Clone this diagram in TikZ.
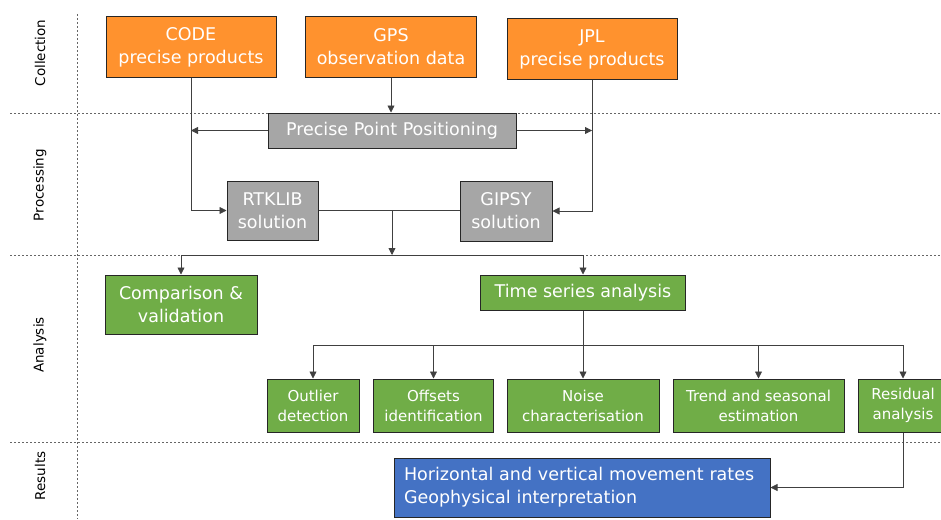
\documentclass[tikz,border=0pt]{standalone}
\usepackage[HTML]{xcolor}
\usepackage{fontspec}
\setmainfont{DejaVu Sans}
\usepackage{tikz}
\usetikzlibrary{positioning, arrows.meta}

\definecolor{collorange}{HTML}{FF922E}
\definecolor{procgray}{HTML}{A6A6A6}
\definecolor{anagreen}{HTML}{70AD47}
\definecolor{resblue}{HTML}{4472C4}

\begin{document}
\begin{tikzpicture}[x=1pt, y=-1pt,
  lane/.style={gray!80!black, dash pattern=on 2pt off 2pt, line width=0.7pt},
  lanelabel/.style={rotate=90, font=\fontsize{13.5}{15}\selectfont},
  box/.style={draw=black!85, line width=1pt, text=white, align=center, inner sep=2pt},
  bigtext/.style={font=\fontsize{17.5}{23}\selectfont},
  smalltext/.style={font=\fontsize{15}{20}\selectfont},
  link/.style={draw=black!75, line width=0.8pt, -{Triangle[length=7pt, width=7pt]}},
  plain/.style={draw=black!75, line width=0.8pt}]
\useasboundingbox (0,0) rectangle (941,519);

% swim lanes
\draw[lane] (77,14) -- (77,519);
\foreach \y in {113,255,442}{
  \draw[lane] (10,\y) -- (941,\y);
}
\node[lanelabel] (collect) at (40,53) {Collection};
\node[lanelabel] (process) at (40,185) {Processing};
\node[lanelabel] (analyse) at (40,345) {Analysis};
\node[lanelabel] (results) at (40,476) {Results};

% collection
\node[box, bigtext, fill=collorange, minimum width=170pt, minimum height=60pt] (code) at (191,47) {CODE\\precise products};
\node[box, bigtext, fill=collorange, minimum width=171pt, minimum height=60pt] (gps) at (391,47) {GPS\\observation data};
\node[box, bigtext, fill=collorange, minimum width=170pt, minimum height=60pt] (jpl) at (592,49) {JPL\\precise products};

% processing
\node[box, bigtext, fill=procgray, minimum width=248pt, minimum height=35pt] (ppp) at (392,130.5) {Precise Point Positioning};
\node[box, bigtext, fill=procgray, minimum width=91pt, minimum height=59pt] (rtk) at (272.5,210.5) {RTKLIB\\solution};
\node[box, bigtext, fill=procgray, minimum width=92pt, minimum height=60pt] (gipsy) at (506,211) {GIPSY\\solution};

% analysis
\node[box, bigtext, fill=anagreen, minimum width=152pt, minimum height=59pt] (comp) at (181,304.5) {Comparison \&\\validation};
\node[box, bigtext, fill=anagreen, minimum width=205pt, minimum height=35pt] (tsa) at (583,292.5) {Time series analysis};
\node[box, smalltext, fill=anagreen, minimum width=92pt, minimum height=53pt] (outl) at (313,405.5) {Outlier\\detection};
\node[box, smalltext, fill=anagreen, minimum width=120pt, minimum height=53pt] (offs) at (433.5,405.5) {Offsets\\identification};
\node[box, smalltext, fill=anagreen, minimum width=152pt, minimum height=53pt] (noise) at (583,405.5) {Noise\\characterisation};
\node[box, smalltext, fill=anagreen, minimum width=171pt, minimum height=53pt] (trend) at (758.5,405.5) {Trend and seasonal\\estimation};
\node[box, smalltext, fill=anagreen, minimum width=90pt, minimum height=53pt] (resid) at (903,405.5) {Residual\\analysis};

% results
\node[box, font=\fontsize{17.5}{23}\selectfont, fill=resblue, align=left, inner xsep=10pt, text width=356pt, minimum height=59pt] (rates) at (582,487.5) {Horizontal and vertical movement rates\\Geophysical interpretation};

% connectors
\coordinate (merge) at (392,210);
\coordinate (split) at (392,255);
\coordinate (fan) at (583,345);
\draw[link] (gps.south) -- (gps.south |- ppp.north);
\draw[link] (ppp.west) -- (code.south |- ppp.west);
\draw[link] (ppp.east) -- (jpl.south |- ppp.east);
\draw[link] (code.south) |- (rtk.west);
\draw[link] (jpl.south) |- (gipsy.east);
\draw[plain] (rtk.east) -- (gipsy.west |- rtk.east);
\draw[link] (merge) -- (split);
\draw[link] (split) -| (comp.north);
\draw[link] (split) -| (tsa.north);
\draw[link] (tsa.south) -- (noise.north);
\draw[link] (fan) -| (outl.north);
\draw[link] (fan) -| (offs.north);
\draw[link] (fan) -| (trend.north);
\draw[link] (fan) -| (resid.north);
\draw[link] (resid.south) |- (rates.east);
\end{tikzpicture}
\end{document}
